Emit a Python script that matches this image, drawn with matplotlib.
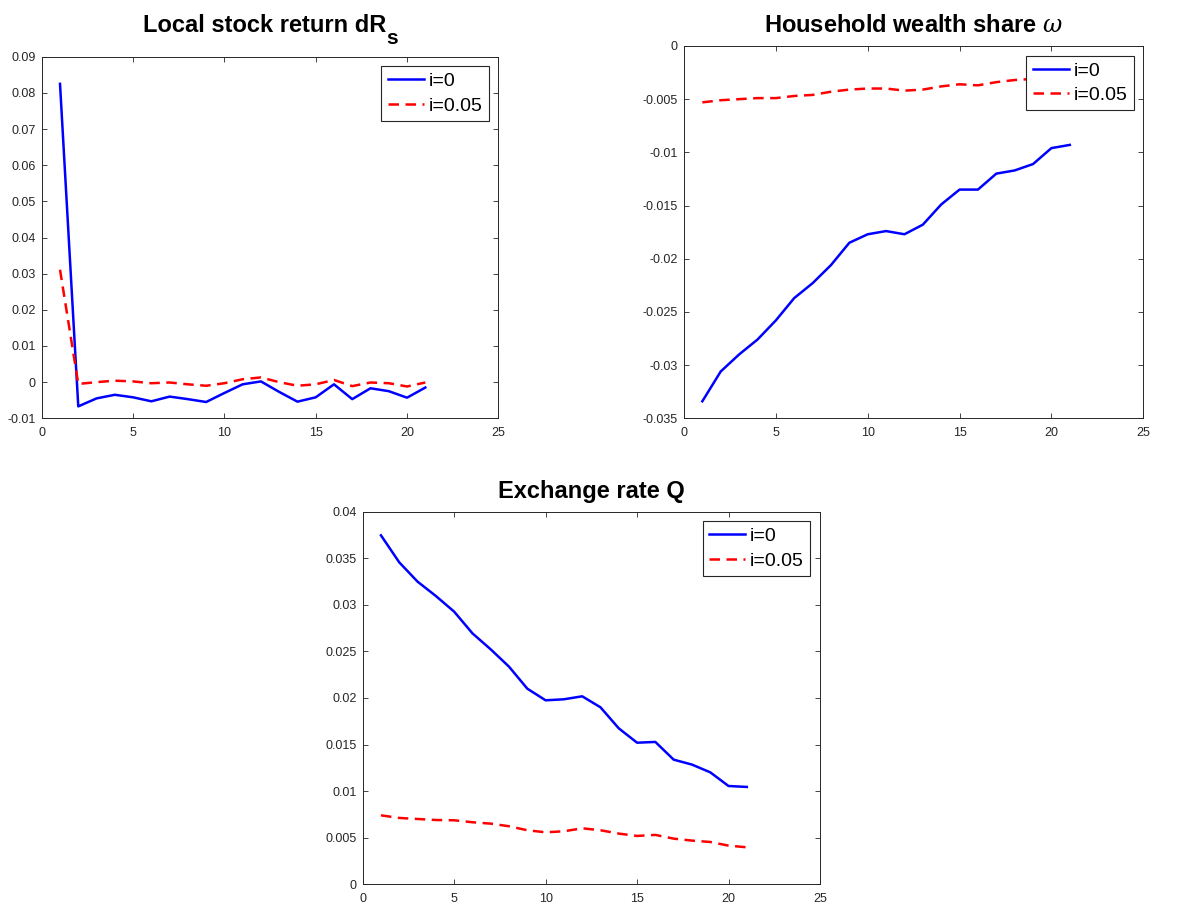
import matplotlib
matplotlib.use("Agg")
import matplotlib.pyplot as plt
from matplotlib.transforms import offset_copy

plt.rcParams['font.family'] = ['Liberation Sans', 'DejaVu Sans']
plt.rcParams['mathtext.fontset'] = 'custom'
plt.rcParams['mathtext.rm'] = 'Liberation Sans'
plt.rcParams['mathtext.bf'] = 'Liberation Sans:bold'
plt.rcParams['mathtext.it'] = 'DejaVu Serif:italic'
plt.rcParams['axes.unicode_minus'] = False

periods = list(range(1, 22))

# Local stock return dR_s
dRs_i0 = [0.0825, -0.0067, -0.0045, -0.0035, -0.0042, -0.0053, -0.0040, -0.0047, -0.0055, -0.0030,
          -0.0006, 0.0002, -0.0027, -0.0054, -0.0042, -0.0006, -0.0047, -0.0017, -0.0025, -0.0043, -0.0015]
dRs_i005 = [0.0311, -0.0005, 0.0000, 0.0004, 0.0002, -0.0003, -0.0001, -0.0006, -0.0010, -0.0003,
            0.0008, 0.0013, 0.0000, -0.0010, -0.0006, 0.0006, -0.0011, -0.0001, -0.0003, -0.0012, -0.0001]

# Household wealth share omega
omega_i0 = [-0.0334, -0.0306, -0.0290, -0.0276, -0.0258, -0.0237, -0.0223, -0.0206, -0.0185, -0.0177,
            -0.0174, -0.0177, -0.0168, -0.0149, -0.0135, -0.0135, -0.0120, -0.0117, -0.0111, -0.0096, -0.0093]
omega_i005 = [-0.0053, -0.0051, -0.0050, -0.0049, -0.0049, -0.0047, -0.0046, -0.0043, -0.0041, -0.0040,
              -0.0040, -0.0042, -0.0041, -0.0038, -0.0036, -0.0037, -0.0034, -0.0032, -0.0031, -0.0029, -0.0028]

# Exchange rate Q
Q_i0 = [0.03746, 0.03456, 0.03249, 0.03095, 0.02927, 0.02694, 0.02522, 0.02336, 0.02100, 0.01975,
        0.01986, 0.02018, 0.01900, 0.01674, 0.01520, 0.01528, 0.01338, 0.01285, 0.01202, 0.01055, 0.01045]
Q_i005 = [0.00740, 0.00712, 0.00701, 0.00690, 0.00687, 0.00666, 0.00651, 0.00623, 0.00580, 0.00558,
          0.00569, 0.00601, 0.00580, 0.00544, 0.00519, 0.00530, 0.00490, 0.00469, 0.00454, 0.00415, 0.00397]

labels = ['i=0', 'i=0.05']
xticks = [0, 5, 10, 15, 20, 25]
xticklabels = ['0', '5', '10', '15', '20', '25']

yt_dRs = [-0.01, 0, 0.01, 0.02, 0.03, 0.04, 0.05, 0.06, 0.07, 0.08, 0.09]
yl_dRs = ['-0.01', '0', '0.01', '0.02', '0.03', '0.04', '0.05', '0.06', '0.07', '0.08', '0.09']
yt_om = [-0.035, -0.03, -0.025, -0.02, -0.015, -0.01, -0.005, 0]
yl_om = ['-0.035', '-0.03', '-0.025', '-0.02', '-0.015', '-0.01', '-0.005', '0']
yt_Q = [0, 0.005, 0.01, 0.015, 0.02, 0.025, 0.03, 0.035, 0.04]
yl_Q = ['0', '0.005', '0.01', '0.015', '0.02', '0.025', '0.03', '0.035', '0.04']

fig = plt.figure(figsize=(11.86, 9.05), dpi=100)

axc = '#262626'

def make(rect, s0, s1, yt, yl):
    ax = fig.add_axes(rect)
    ax.plot(periods, s0, color='#0000ff', lw=1.8, label=labels[0])
    ax.plot(periods, s1, color='#ff0000', lw=1.8, dashes=(4.2, 2.6), label=labels[1])
    ax.set_xlim(0, 25)
    ax.set_ylim(yt[0], yt[-1])
    ax.set_xticks(xticks)
    ax.set_xticklabels(xticklabels)
    ax.set_yticks(yt)
    ax.set_yticklabels(yl)
    ax.tick_params(direction='in', top=True, right=True, length=3.6, width=0.6,
                   labelsize=9, colors=axc)
    ax.tick_params(axis='x', pad=6)
    ax.tick_params(axis='y', pad=4.5)
    for sp in ax.spines.values():
        sp.set_color(axc)
        sp.set_linewidth(0.7)
    leg = ax.legend(loc='upper right', fontsize=14, frameon=True, fancybox=False,
                    framealpha=1, edgecolor=axc, borderpad=0.32, labelspacing=0.36,
                    handlelength=1.85, handletextpad=0.25, borderaxespad=0.5)
    leg.get_frame().set_linewidth(0.8)
    return ax

ax1 = make([0.0352, 0.5378, 0.385, 0.3995], dRs_i0, dRs_i005, yt_dRs, yl_dRs)
ax2 = make([0.5767, 0.5378, 0.3873, 0.4114], omega_i0, omega_i005, yt_om, yl_om)
ax3 = make([0.3058, 0.0229, 0.3856, 0.4117], Q_i0, Q_i005, yt_Q, yl_Q)

ax2.set_title(r'Household wealth share ' + r'$\omega$', fontsize=17, fontweight='bold', pad=10)
ax3.set_title('Exchange rate Q', fontsize=17, fontweight='bold', pad=9.7)

# Title with lowered subscript (MATLAB style)
main = ax1.text(0.5, 1.0, 'Local stock return dR', transform=offset_copy(ax1.transAxes, fig=fig, x=0, y=17.8, units='points'),
                ha='center', va='baseline', fontsize=17, fontweight='bold')
fig.canvas.draw()
r = fig.canvas.get_renderer()
bb = main.get_window_extent(r)
sub = fig.text(0, 0, 's', fontsize=15, fontweight='bold', va='baseline', ha='left')
sbb = sub.get_window_extent(r)
shift = sbb.width / 2.0
main.set_transform(offset_copy(ax1.transAxes, fig=fig, x=-shift * 72 / fig.dpi, y=17.8, units='points'))
fig.canvas.draw()
bb = main.get_window_extent(r)
sub.set_position((bb.x1 / fig.bbox.width, (ax1.bbox.y1 + 17.8 * fig.dpi / 72 - 12) / fig.bbox.height))

fig.savefig('out.png', dpi=100, facecolor='white')
